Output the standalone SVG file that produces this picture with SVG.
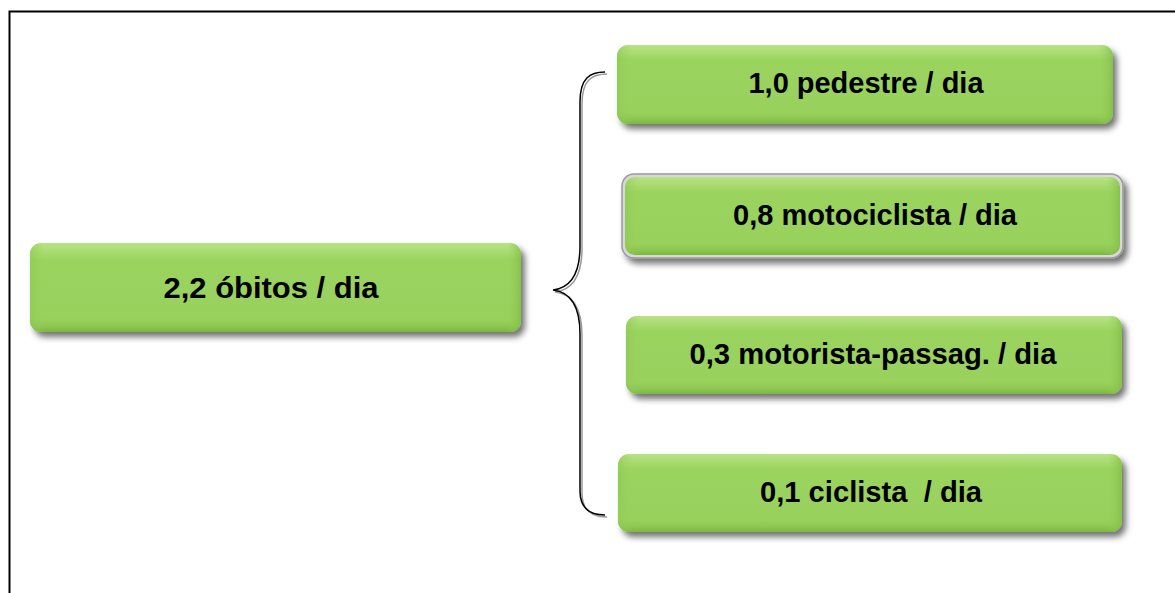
<svg xmlns="http://www.w3.org/2000/svg" width="1175" height="593" viewBox="0 0 1175 593">
<defs>
<linearGradient id="g" x1="0" y1="0" x2="0" y2="1">
<stop offset="0" stop-color="#b8e386"/>
<stop offset="0.12" stop-color="#a6da6c"/>
<stop offset="0.2" stop-color="#9bd35f"/>
<stop offset="0.85" stop-color="#99d15d"/>
<stop offset="0.94" stop-color="#8cc650"/>
<stop offset="1" stop-color="#7db63f"/>
</linearGradient>
<linearGradient id="gs" x1="0" y1="0" x2="1" y2="0">
<stop offset="0" stop-color="#8cc650" stop-opacity="0.6"/>
<stop offset="0.03" stop-color="#9bd35f" stop-opacity="0"/>
<stop offset="0.97" stop-color="#9bd35f" stop-opacity="0"/>
<stop offset="1" stop-color="#7fb844" stop-opacity="0.7"/>
</linearGradient>
<filter id="sh" x="-5%" y="-20%" width="112%" height="150%">
<feDropShadow dx="4" dy="5" stdDeviation="3" flood-color="#000" flood-opacity="0.55"/>
</filter>
</defs>
<style>
.box{fill:url(#g);filter:url(#sh)}
.edge{fill:url(#gs)}
.t{font-family:"Liberation Sans",Arial,sans-serif;font-weight:bold;font-size:29px;fill:#000;text-anchor:middle}
.br{fill:none;stroke:#000;stroke-width:1.5}
.brs{fill:none;stroke:#999;stroke-width:1.5}
</style>
<rect width="1175" height="593" fill="#fff"/>
<path d="M9.5,593 V11.5 H1175" fill="none" stroke="#000" stroke-width="2"/>
<g id="connectors">
<path class="brs" d="M607,74 C592,74 582,80 582,104 L582,248 C582,276 572,290 555,292 C572,294 582,308 582,336 L582,493 C582,510 592,517 607,517"/>
<path class="br" d="M605,72 C590,72 580,78 580,102 L580,246 C580,274 570,288 553,290 C570,292 580,306 580,334 L580,491 C580,508 590,515 605,515"/>
</g>
<g id="n0">
<rect class="box" x="30" y="243" width="491" height="89" rx="11"/>
<rect class="edge" x="30" y="243" width="491" height="89" rx="11"/>
<text class="t" x="271" y="298" textLength="215" lengthAdjust="spacingAndGlyphs">2,2 óbitos / dia</text>
</g>
<g id="n1">
<rect class="box" x="617" y="45" width="496" height="79" rx="11"/>
<rect class="edge" x="617" y="45" width="496" height="79" rx="11"/>
<text class="t" x="866" y="93" textLength="235" lengthAdjust="spacingAndGlyphs">1,0 pedestre / dia</text>
</g>
<g id="n2">
<rect x="622" y="174" width="501" height="84" rx="12" fill="#d8d8d8" stroke="#9a9a9a" stroke-width="1.5" filter="url(#sh)"/>
<rect class="box" x="625" y="177" width="495" height="78" rx="10" style="filter:none"/>
<rect class="edge" x="625" y="177" width="495" height="78" rx="10"/>
<text class="t" x="875" y="225" textLength="284" lengthAdjust="spacingAndGlyphs">0,8 motociclista / dia</text>
</g>
<g id="n3">
<rect class="box" x="626" y="316" width="496" height="78" rx="11"/>
<rect class="edge" x="626" y="316" width="496" height="78" rx="11"/>
<text class="t" x="873" y="364" textLength="367" lengthAdjust="spacingAndGlyphs">0,3 motorista-passag. / dia</text>
</g>
<g id="n4">
<rect class="box" x="618" y="454" width="504" height="78" rx="11"/>
<rect class="edge" x="618" y="454" width="504" height="78" rx="11"/>
<text class="t" x="871" y="502" xml:space="preserve" textLength="222" lengthAdjust="spacingAndGlyphs">0,1 ciclista  / dia</text>
</g>
</svg>
